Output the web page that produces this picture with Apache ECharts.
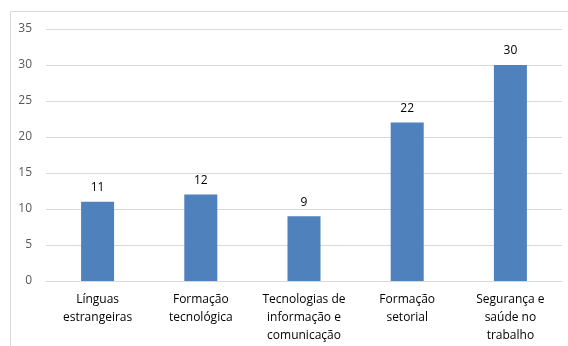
<!DOCTYPE html>
<html>
<head>
<meta charset="utf-8">
<script src="https://cdn.jsdelivr.net/npm/echarts@6/dist/echarts.min.js"></script>
<style>
  html, body { margin: 0; padding: 0; background: #fff; }
  #chart { width: 568px; height: 346px; }
</style>
</head>
<body>
<div id="chart"></div>
<script>
const categories = [
  "Línguas\nestrangeiras",
  "Formação\ntecnológica",
  "Tecnologias de\ninformação e\ncomunicação",
  "Formação\nsetorial",
  "Segurança e\nsaúde no\ntrabalho",
];
const values = [11, 12, 9, 22, 30];

const chart = echarts.init(document.getElementById("chart"));

chart.setOption({
  animation: false,
  textStyle: { fontFamily: "Open Sans" },
  graphic: [
    {
      type: "rect",
      shape: { x: 10.5, y: 11.5, width: 560, height: 345 },
      style: { fill: "none", stroke: "#d9d9d9", lineWidth: 1 },
      silent: true,
    },
  ],
  grid: { left: 46, right: 6, top: 29, bottom: 65 },
  xAxis: {
    type: "category",
    data: categories,
    axisLine: { show: true, lineStyle: { color: "#d9d9d9" } },
    axisTick: { show: false },
    axisLabel: {
      color: "#000",
      fontSize: 12,
      lineHeight: 18,
      margin: 10,
      interval: 0,
    },
  },
  yAxis: {
    type: "value",
    min: 0,
    max: 35,
    interval: 5,
    axisLine: { show: false },
    axisTick: { show: false },
    axisLabel: { color: "#595959", fontSize: 12, margin: 14 },
    splitLine: { lineStyle: { color: "#d9d9d9" } },
  },
  series: [
    {
      type: "bar",
      data: values,
      barWidth: "32%",
      itemStyle: { color: "#4f81bd" },
      label: {
        show: true,
        position: "top",
        color: "#000",
        fontSize: 12,
        distance: 8,
      },
    },
  ],
});
</script>
</body>
</html>
